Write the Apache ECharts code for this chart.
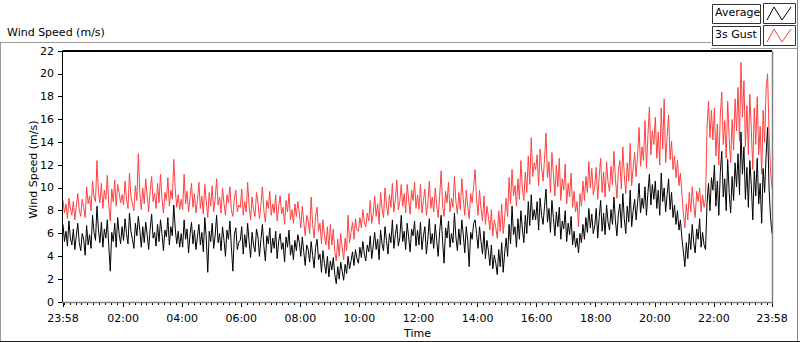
<!DOCTYPE html>
<html>
<head>
<meta charset="utf-8">
<script src="https://cdn.jsdelivr.net/npm/echarts@6/dist/echarts.min.js"></script>
<style>
html,body{margin:0;padding:0;background:#fff;}
#chart{width:800px;height:342px;}
</style>
</head>
<body>
<div id="chart"></div>
<script>
// samples every 3 minutes, starting 23:58
var timeStepMinutes = 3;
var avgSpeed = [
6.8,5.3,6.2,4.9,7.1,5.6,5.0,6.4,4.6,5.8,6.9,5.2,4.5,6.0,5.5,4.1,6.7,5.0,5.9,4.7,
7.6,6.1,5.4,8.4,6.3,5.2,7.0,4.8,6.4,5.6,7.2,4.9,2.7,6.1,5.3,6.9,4.8,7.4,6.0,5.1,
6.6,5.4,7.3,6.0,5.1,7.8,6.2,5.5,4.7,6.9,5.8,7.5,6.3,4.8,6.6,5.2,7.0,5.9,4.6,6.4,
7.7,5.6,6.1,4.9,6.8,5.3,7.2,6.0,4.5,6.3,5.7,7.4,5.0,6.6,5.8,8.5,6.4,5.1,6.2,4.8,
6.0,4.8,7.2,5.5,6.4,4.3,5.9,7.0,5.1,6.3,4.6,5.7,6.8,5.0,6.1,4.4,7.4,5.6,2.6,6.2,
5.3,6.9,4.7,5.8,7.6,5.2,6.0,4.5,6.6,5.4,4.0,6.3,5.5,7.1,4.8,2.7,5.9,6.5,4.6,5.2,
5.4,6.6,4.2,5.9,4.8,6.9,5.3,3.9,6.1,5.0,4.4,6.4,5.7,4.0,5.5,6.8,4.9,3.6,5.8,5.1,
6.5,4.3,5.6,4.7,6.2,3.8,5.3,6.0,4.6,5.2,3.5,5.7,4.8,6.3,4.1,5.0,3.7,5.4,4.5,5.9,
5.2,4.0,5.7,4.4,3.2,5.0,4.6,3.5,5.3,4.1,3.0,4.8,5.5,3.7,4.2,2.6,4.5,3.4,2.5,4.0,
2.2,3.6,2.8,3.9,2.4,1.6,3.1,2.0,3.5,2.7,1.9,3.3,2.5,4.0,2.9,3.6,4.4,3.2,4.6,3.8,
3.4,4.8,3.9,5.3,4.2,3.6,5.0,4.4,5.8,3.8,4.9,6.1,4.6,5.5,3.7,6.3,5.1,4.5,6.6,5.4,
4.2,6.0,5.2,7.2,4.7,5.9,6.8,4.9,5.6,7.6,5.3,6.2,4.6,6.9,5.7,4.4,6.4,5.8,7.1,4.9,
6.3,5.0,7.0,4.6,5.8,6.6,4.2,5.5,7.3,5.1,6.0,4.7,6.8,5.4,4.0,6.2,7.6,5.3,3.4,6.5,
5.6,7.1,4.8,6.0,5.2,7.8,5.7,4.5,6.4,5.0,7.2,5.9,4.3,6.6,5.4,3.1,6.1,5.5,6.9,7.2,
6.0,4.7,6.6,5.3,4.2,6.2,3.8,5.4,4.5,3.2,5.0,2.9,4.1,3.4,2.4,4.6,3.1,5.2,2.6,4.3,
5.6,4.0,6.8,5.1,8.4,5.9,6.6,4.8,7.3,5.5,8.0,6.4,5.2,7.6,6.0,8.8,6.7,9.4,7.2,8.1,
7.2,8.8,6.3,9.1,7.6,6.8,8.4,9.9,7.0,8.2,6.1,8.9,7.4,5.8,7.9,6.6,8.3,5.5,7.1,6.4,
8.0,5.3,6.9,5.9,7.5,5.0,6.2,4.8,5.6,4.3,6.0,5.2,6.8,5.5,7.4,6.1,8.2,6.5,7.7,6.0,
6.7,8.2,5.6,7.4,8.9,6.2,7.8,5.9,8.5,7.0,6.3,8.1,6.8,9.2,7.1,5.8,7.7,8.6,6.5,9.5,
7.3,6.0,8.4,7.0,9.8,6.6,8.0,9.0,7.2,8.7,10.4,7.8,9.1,8.2,10.1,7.6,9.6,11.2,8.5,10.3,
9.0,10.6,8.2,9.8,7.6,11.3,8.8,10.0,7.9,9.4,10.8,8.1,9.6,7.4,8.5,6.8,8.0,6.3,7.2,5.6,
4.4,3.1,5.2,3.8,6.0,4.6,6.8,5.2,4.3,6.4,5.5,7.3,4.8,6.1,5.0,4.6,8.6,10.4,8.0,10.9,
9.8,12.0,8.4,10.6,7.6,11.4,13.2,9.2,10.8,8.0,12.5,9.6,7.8,11.0,8.9,12.2,10.1,13.0,9.4,14.9,
11.2,13.6,9.0,11.8,8.3,12.4,10.2,7.2,11.5,9.3,12.6,8.6,10.4,6.9,11.7,9.6,12.8,15.3,10.0,7.4,6.0
];
var gustSpeed = [
8.9,7.8,8.6,7.3,9.1,8.2,7.6,8.8,7.2,8.4,9.5,8.1,7.5,9.0,8.3,7.4,10.1,8.6,9.3,8.0,
10.6,9.2,8.8,12.4,9.6,8.7,10.4,8.2,9.8,9.0,11.1,8.5,7.1,9.9,8.8,10.7,8.4,10.3,9.6,8.7,
9.4,8.5,10.6,9.0,8.2,11.3,9.2,8.6,8.0,10.2,8.9,13.0,9.6,8.1,10.0,8.6,10.8,9.3,7.9,9.7,
11.0,8.8,9.5,8.2,10.4,8.7,11.2,9.1,7.8,9.6,8.9,10.9,8.4,9.8,9.0,12.5,9.9,8.3,9.4,8.1,
9.0,8.1,11.2,8.6,9.7,7.9,9.1,10.4,8.3,9.5,7.8,8.9,10.5,8.2,9.3,7.7,10.3,8.8,7.4,9.6,
8.4,10.2,7.9,9.0,10.8,8.5,9.2,7.8,10.0,8.6,7.6,9.4,8.7,10.1,8.0,7.5,9.1,9.8,7.9,8.5,
8.3,9.9,7.6,8.8,7.9,10.5,8.4,7.2,9.2,8.1,7.5,9.6,8.7,7.3,8.5,10.1,8.0,7.0,8.9,8.2,
9.7,7.6,8.6,7.8,9.4,7.1,8.4,9.3,7.7,8.3,6.8,8.9,7.9,9.5,7.2,8.1,6.9,8.6,7.5,8.8,
7.8,6.5,8.4,7.0,5.8,7.6,7.1,6.0,9.2,6.8,5.6,7.5,8.3,6.2,6.9,5.1,7.2,5.8,5.0,6.6,
4.6,6.8,5.0,6.4,4.4,3.6,5.5,4.0,6.0,4.8,3.7,5.6,4.5,7.6,5.2,6.1,7.0,5.5,7.3,6.3,
6.2,7.4,6.5,8.1,7.0,6.6,7.8,7.1,8.9,6.9,7.7,9.3,7.5,8.6,6.8,9.6,8.2,7.4,10.0,8.5,
7.6,9.4,8.3,10.4,7.9,9.0,10.7,8.1,8.8,10.3,8.4,9.5,7.8,10.3,9.0,7.7,9.8,8.9,10.5,8.2,
9.4,8.1,10.3,7.8,8.9,9.9,7.6,8.6,10.6,8.2,9.2,7.9,10.0,8.5,7.4,9.3,11.5,8.4,7.5,9.7,
8.7,10.5,7.9,9.1,8.3,11.0,8.8,7.7,9.6,8.1,10.8,9.0,7.6,9.8,8.4,7.3,9.5,8.7,10.2,11.6,
9.0,7.6,9.8,8.2,7.1,9.3,6.8,8.4,7.5,6.3,8.1,5.8,7.2,6.5,5.6,8.0,6.2,8.6,6.0,7.4,
9.1,7.5,10.9,8.6,11.6,9.3,10.2,8.4,10.8,9.0,12.4,9.9,8.9,11.4,9.6,12.8,10.3,14.4,11.0,12.2,
11.6,12.9,10.2,13.4,11.8,10.6,12.5,14.8,10.9,12.3,9.6,13.1,11.2,9.3,12.0,10.1,12.6,8.9,10.8,9.8,
12.1,8.6,10.4,9.2,11.3,8.3,9.7,7.9,8.8,6.6,9.5,8.4,10.6,8.9,11.0,9.6,12.3,10.0,11.7,9.4,
10.2,11.8,9.0,11.0,12.6,9.6,11.4,9.2,12.3,10.5,9.7,11.9,10.3,13.2,10.8,9.1,11.5,12.4,9.9,13.6,
11.1,9.5,12.2,10.6,13.9,10.2,11.8,13.1,11.0,12.8,15.3,11.9,13.6,12.4,15.9,11.7,14.6,17.1,12.9,15.0,
13.8,16.2,12.6,14.9,12.0,17.0,13.4,17.8,12.2,14.5,16.4,12.5,14.1,11.6,12.8,10.9,12.4,10.2,11.3,9.5,
7.8,6.5,8.6,7.2,9.6,7.9,10.1,8.5,7.4,9.7,8.8,10.0,7.9,9.4,8.3,9.0,15.2,17.6,14.4,16.8,
14.2,17.0,12.8,15.6,12.0,16.4,18.4,13.8,15.9,12.6,17.6,14.4,12.2,16.0,13.3,17.8,15.0,18.8,14.1,21.0,
16.2,19.4,13.6,17.2,12.9,18.2,15.1,11.6,17.0,13.8,18.0,12.9,15.4,11.2,16.8,14.0,18.6,20.0,14.8,11.5,10.0
];
var seriesNames = ['Average', '3s Gust'];
var majorTickMinutes = [0,122,242,362,482,602,722,842,962,1082,1202,1322,1440];
var majorTickLabels = ['23:58','02:00','04:00','06:00','08:00','10:00','12:00','14:00','16:00','18:00','20:00','22:00','23:58'];
var minorTickMinutes = [];
for (var m = 2; m <= 1440; m += 12) minorTickMinutes.push(m);

var avgData = avgSpeed.map(function(v,i){return [i*timeStepMinutes, v];});
var gustData = gustSpeed.map(function(v,i){return [i*timeStepMinutes, v];});

var FONT = 'DejaVu Sans';
var G = {left:63, top:51, width:709, height:251};

function labelFor(v){
  var i = majorTickMinutes.indexOf(Math.round(v));
  return i >= 0 ? majorTickLabels[i] : '';
}

var chart = echarts.init(document.getElementById('chart'), null, {renderer:'svg'});
var option = {
  animation:false,
  backgroundColor:'#ffffff',
  title:{text:'Wind Speed (m/s)', left:2, top:22, textStyle:{fontFamily:FONT, fontSize:11, fontWeight:'normal', color:'#000'}},
  grid:{left:G.left, top:G.top, width:G.width, height:G.height, show:false, containLabel:false, outerBoundsMode:'none'},
  xAxis:[{
    type:'value', min:0, max:1440,
    name:'Time', nameLocation:'middle', nameGap:26, nameMoveOverlap:false,
    nameTextStyle:{fontFamily:FONT, fontSize:11, color:'#000'},
    axisLine:{show:false},
    axisTick:{show:true, customValues:majorTickMinutes, length:5, lineStyle:{color:'#000', width:1}},
    axisLabel:{show:true, customValues:majorTickMinutes, formatter:labelFor, margin:11, fontFamily:FONT, fontSize:11, color:'#000'},
    splitLine:{show:false}
  },{
    type:'value', min:0, max:1440, position:'bottom', gridIndex:0,
    axisLine:{show:false},
    axisTick:{show:true, customValues:minorTickMinutes, length:3, lineStyle:{color:'#000', width:1}},
    axisLabel:{show:false},
    splitLine:{show:false}
  }],
  yAxis:{
    type:'value', min:0, max:22, interval:2,
    name:'Wind Speed (m/s)', nameLocation:'middle', nameGap:24, nameMoveOverlap:false,
    nameTextStyle:{fontFamily:FONT, fontSize:11, color:'#000', padding:[0,0,0,14]},
    axisLine:{show:false},
    axisTick:{show:true, length:5, lineStyle:{color:'#000'}},
    axisLabel:{margin:9, fontFamily:FONT, fontSize:11, color:'#000'},
    splitLine:{show:false}
  },
  series:[{
    name:seriesNames[1], type:'line', data:gustData, symbol:'none', z:2,
    lineStyle:{color:'#ff4040', width:1}
  },{
    name:seriesNames[0], type:'line', data:avgData, symbol:'none', z:3,
    lineStyle:{color:'#000000', width:1}
  }],
  graphic:[
    {type:'line', shape:{x1:0.5,y1:42,x2:0.5,y2:342}, style:{stroke:'#999',lineWidth:1}},
    {type:'line', shape:{x1:0,y1:42.5,x2:711,y2:42.5}, style:{stroke:'#999',lineWidth:1}},
    {type:'line', shape:{x1:711,y1:48.5,x2:798,y2:48.5}, style:{stroke:'#999',lineWidth:1}},
    {type:'line', shape:{x1:797.5,y1:0,x2:797.5,y2:342}, style:{stroke:'#888',lineWidth:1}},
    {type:'line', shape:{x1:0,y1:341.5,x2:800,y2:341.5}, style:{stroke:'#222',lineWidth:1}},
    {type:'line', shape:{x1:G.left-0.5,y1:G.top,x2:G.left+G.width,y2:G.top}, style:{stroke:'#000',lineWidth:2}, z:10},
    {type:'line', shape:{x1:G.left-0.5,y1:G.top,x2:G.left-0.5,y2:G.top+G.height}, style:{stroke:'#000',lineWidth:1}, z:10},
    {type:'line', shape:{x1:G.left+G.width+0.5,y1:G.top,x2:G.left+G.width+0.5,y2:G.top+G.height+1}, style:{stroke:'#808080',lineWidth:1.5}, z:10},
    {type:'line', shape:{x1:G.left-1,y1:G.top+G.height+0.5,x2:G.left+G.width+1,y2:G.top+G.height+0.5}, style:{stroke:'#808080',lineWidth:1.5}, z:10},
    {type:'rect', shape:{x:712.5,y:4.5,width:48,height:19}, style:{fill:'#fff',stroke:'#333',lineWidth:1}},
    {type:'text', left:715, top:7, style:{text:seriesNames[0], fontFamily:FONT, fontSize:11, fill:'#000'}},
    {type:'rect', shape:{x:763.5,y:3.5,width:32,height:20}, style:{fill:'#fff',stroke:'#333',lineWidth:1}},
    {type:'polyline', shape:{points:[[767,20],[774,7],[782,20],[791,7]]}, style:{stroke:'#000',lineWidth:1,fill:null}},
    {type:'rect', shape:{x:712.5,y:26.5,width:48,height:19}, style:{fill:'#fff',stroke:'#333',lineWidth:1}},
    {type:'text', left:715, top:29, style:{text:seriesNames[1], fontFamily:FONT, fontSize:11, fill:'#000'}},
    {type:'rect', shape:{x:763.5,y:25.5,width:32,height:20}, style:{fill:'#fff',stroke:'#333',lineWidth:1}},
    {type:'polyline', shape:{points:[[767,42],[774,29],[782,42],[791,29]]}, style:{stroke:'#ff4040',lineWidth:1,fill:null}}
  ]
};
chart.setOption(option);
</script>
</body>
</html>
